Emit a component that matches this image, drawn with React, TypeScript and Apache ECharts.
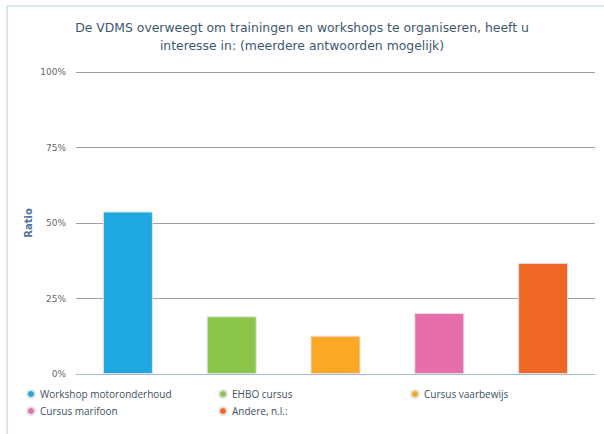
import React, { useEffect, useRef } from "react";
import * as echarts from "echarts";

const titleLines = [
  "De VDMS overweegt om trainingen en workshops te organiseren, heeft u",
  "interesse in: (meerdere antwoorden mogelijk)",
];
const categories = [
  "Workshop motoronderhoud",
  "EHBO cursus",
  "Cursus vaarbewijs",
  "Cursus marifoon",
  "Andere, n.l.:",
];
const values = [53.8, 19.1, 12.7, 20.2, 36.8];
const colors = ["#1ea8df", "#8bc64a", "#fba925", "#e66eab", "#f06826"];
const yTicks = [0, 25, 50, 75, 100];
const legendPos = [
  { left: 26, top: 389 },
  { left: 218, top: 389 },
  { left: 410, top: 389 },
  { left: 26, top: 406 },
  { left: 218, top: 406 },
];

export default function App() {
  const ref = useRef<HTMLDivElement>(null);
  useEffect(() => {
    const chart = echarts.init(ref.current!, null, { renderer: "svg" });
    const series = categories.map((name, i) => ({
      name,
      type: "bar",
      stack: "all",
      barWidth: 50,
      data: categories.map((_, j) => (j === i ? values[i] : null)),
      itemStyle: {
        color: colors[i],
        borderColor: "#e2e2e2",
        borderWidth: 1,
      },
    }));
    chart.setOption({
      animation: false,
      color: colors,
      title: {
        text: titleLines.join("\n"),
        left: "center",
        top: 13,
        textStyle: {
          fontFamily: "DejaVu Sans",
          fontSize: 12.4,
          fontWeight: "normal",
          color: "#3e576f",
          lineHeight: 18,
        },
      },
      graphic: [
        {
          type: "rect",
          shape: { x: 7, y: 6, width: 620, height: 450 },
          style: { fill: "none", stroke: "#b7cde6", lineWidth: 1 },
          silent: true,
          z: -1,
        },
      ],
      legend: categories.map((name, i) => ({
        data: [name],
        left: legendPos[i].left,
        top: legendPos[i].top,
        icon: "circle",
        itemWidth: 8,
        itemHeight: 8,
        itemGap: 4,
        padding: 0,
        textStyle: {
          fontFamily: "Open Sans",
          fontSize: 10,
          color: "#3d4f60",
        },
      })),
      grid: { left: 76, right: 9, top: 72, bottom: 60 },
      xAxis: {
        type: "category",
        data: categories,
        axisLine: { lineStyle: { color: "#a9bccc", width: 1 } },
        axisTick: { alignWithLabel: true, lineStyle: { color: "#a9bccc" }, length: 4 },
        axisLabel: { show: false },
      },
      yAxis: {
        type: "value",
        min: 0,
        max: 100,
        interval: 25,
        name: "Ratio",
        nameLocation: "middle",
        nameGap: 43,
        nameMoveOverlap: false,
        nameTextStyle: {
          fontFamily: "DejaVu Sans",
          fontSize: 10,
          fontWeight: "bold",
          color: "#4d759e",
        },
        axisLine: { show: false },
        axisTick: { show: false },
        axisLabel: {
          formatter: (v: number) => (yTicks.includes(v) ? `${v}%` : ""),
          fontFamily: "DejaVu Sans",
          fontSize: 9,
          color: "#666666",
          margin: 10,
        },
        splitLine: { lineStyle: { color: "#a0a0a0", width: 1 } },
      },
      series,
    });
    return () => chart.dispose();
  }, []);
  return <div ref={ref} style={{ width: 604, height: 434, position: "absolute", left: 0, top: 0 }} />;
}
